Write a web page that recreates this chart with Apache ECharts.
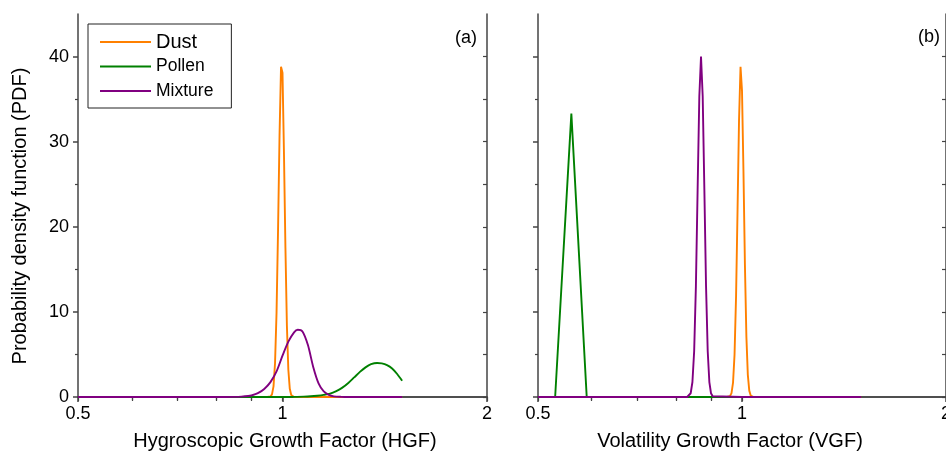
<!DOCTYPE html>
<html>
<head>
<meta charset="utf-8">
<script src="https://cdn.jsdelivr.net/npm/echarts@6/dist/echarts.min.js"></script>
<style>html,body{margin:0;padding:0;background:#fff}#c{width:946px;height:455px}</style>
</head>
<body>
<div id="c"></div>
<script>
// ---------- data ----------
const seriesNames = ['Dust', 'Pollen', 'Mixture'];
const xMajorTicks = [0.5, 1, 2];
const xMinorTicks = [0.6, 0.7, 0.8, 0.9];
const yMajorTicks = [0, 10, 20, 30, 40];
const yMinorTicks = [5, 15, 25, 35];

// Panel (a): Hygroscopic Growth Factor
const hgfDustX = [0.5, 0.9, 0.95, 0.96, 0.965, 0.97, 0.975, 0.98, 0.985, 0.99, 0.995, 1.0, 1.005, 1.01, 1.015, 1.02, 1.025, 1.03, 1.035, 1.04, 1.05, 1.1, 1.2, 1.3, 1.4, 1.5];
const hgfDustY = [0, 0, 0, 0.06, 0.31, 1.25, 3.96, 9.9, 19.6, 30.7, 38.8, 38.1, 28.6, 17.5, 8.4, 3.2, 0.96, 0.23, 0.04, 0, 0, 0, 0, 0, 0, 0];
const hgfPollenX = [0.5, 0.9, 1.0, 1.05, 1.075, 1.1, 1.125, 1.15, 1.175, 1.2, 1.225, 1.25, 1.275, 1.3, 1.325, 1.35, 1.378, 1.4, 1.425, 1.45, 1.475, 1.5];
const hgfPollenY = [0, 0, 0, 0.02, 0.04, 0.08, 0.15, 0.25, 0.4, 0.7, 1.1, 1.65, 2.3, 2.95, 3.48, 3.85, 4.0, 3.95, 3.75, 3.35, 2.7, 1.9];
const hgfMixX = [0.5, 0.8, 0.85, 0.87, 0.89, 0.9, 0.92, 0.94, 0.96, 0.98, 1.0, 1.02, 1.04, 1.053, 1.07, 1.09, 1.11, 1.13, 1.15, 1.17, 1.19, 1.22, 1.25, 1.3, 1.4, 1.5];
const hgfMixY = [0, 0, 0.01, 0.04, 0.11, 0.18, 0.45, 0.95, 1.75, 3.0, 4.85, 6.5, 7.6, 7.9, 7.7, 6.1, 3.5, 1.6, 0.65, 0.25, 0.08, 0.02, 0, 0, 0, 0];

// Panel (b): Volatility Growth Factor
const vgfDustX = [0.5, 0.6, 0.7, 0.8, 0.9, 0.95, 0.96, 0.965, 0.97, 0.975, 0.98, 0.985, 0.99, 0.995, 1.0, 1.005, 1.01, 1.015, 1.02, 1.025, 1.03, 1.035, 1.04, 1.1, 1.2, 1.3, 1.4, 1.5];
const vgfDustY = [0, 0, 0, 0, 0, 0, 0.1, 0.45, 1.7, 5.0, 11.8, 22.0, 32.6, 38.8, 36.0, 26.5, 15.5, 7.1, 2.6, 0.75, 0.17, 0.03, 0, 0, 0, 0, 0, 0];
const vgfPollenX = [0.5, 0.53, 0.56, 0.59, 0.62, 0.7, 0.8, 0.9, 1.0, 1.1, 1.2, 1.3, 1.4, 1.5];
const vgfPollenY = [0, 0, 33.3, 0, 0, 0, 0, 0, 0, 0, 0, 0, 0, 0];
const vgfMixX = [0.5, 0.6, 0.7, 0.8, 0.83, 0.835, 0.84, 0.845, 0.85, 0.855, 0.86, 0.865, 0.87, 0.875, 0.88, 0.885, 0.89, 0.895, 0.9, 0.905, 0.91, 1.0, 1.1, 1.2, 1.3, 1.4, 1.5];
const vgfMixY = [0, 0, 0, 0, 0, 0.09, 0.44, 1.76, 5.4, 13.0, 24.3, 35.3, 40.0, 35.3, 24.3, 13.0, 5.4, 1.76, 0.44, 0.09, 0, 0, 0, 0, 0, 0, 0];

const colors = { Dust: '#ff8000', Pollen: '#008000', Mixture: '#800080' };
// ---------- chart ----------
const FONT = "'Liberation Sans', Arial, sans-serif";
const AX = '#444';
const zip = (xs, ys) => xs.map((x, i) => [x, ys[i]]);

function xAxesFor(g) {
  const base = { type: 'log', logBase: 2, gridIndex: g, min: 0.5, max: 2, splitLine: { show: false } };
  return [
    Object.assign({}, base, {
      position: 'bottom',
      axisLine: { show: true, lineStyle: { color: AX, width: 1.5 } },
      axisTick: { show: true, inside: false, length: 5, customValues: xMajorTicks, lineStyle: { color: AX, width: 1.5 } },
      axisLabel: { show: true, customValues: xMajorTicks, formatter: v => String(+(+v).toFixed(3)), fontSize: 18, color: '#000', fontFamily: FONT, margin: 8 }
    }),
    Object.assign({}, base, {
      position: 'bottom',
      axisLine: { show: false },
      axisTick: { show: true, inside: false, length: 3, customValues: xMinorTicks, lineStyle: { color: AX, width: 1.2 } },
      axisLabel: { show: false }
    }),
    Object.assign({}, base, {
      position: 'top',
      axisLine: { show: true, lineStyle: { color: AX, width: 1.5 } },
      axisTick: { show: true, inside: true, length: 4, customValues: xMajorTicks.concat(xMinorTicks), lineStyle: { color: AX, width: 1.2 } },
      axisLabel: { show: false }
    })
  ];
}
function yAxesFor(g, labels) {
  const base = { type: 'value', gridIndex: g, min: 0, max: 45, splitLine: { show: false } };
  return [
    Object.assign({}, base, {
      position: 'left',
      axisLine: { show: true, lineStyle: { color: AX, width: 1.5 } },
      axisTick: { show: true, inside: false, length: 5, customValues: yMajorTicks, lineStyle: { color: AX, width: 1.5 } },
      axisLabel: { show: labels, customValues: yMajorTicks, fontSize: 18, color: '#000', fontFamily: FONT, margin: 9 }
    }),
    Object.assign({}, base, {
      position: 'left',
      axisLine: { show: false },
      axisTick: { show: true, inside: false, length: 3, customValues: yMinorTicks, lineStyle: { color: AX, width: 1.2 } },
      axisLabel: { show: false }
    }),
    Object.assign({}, base, {
      position: 'right',
      axisLine: { show: true, lineStyle: { color: AX, width: 1.5 } },
      axisTick: { show: true, inside: true, length: 4, customValues: yMajorTicks.concat(yMinorTicks), lineStyle: { color: AX, width: 1.2 } },
      axisLabel: { show: false }
    })
  ];
}

function line(name, data, xi, yi, smooth) {
  return {
    name, type: 'line', data, xAxisIndex: xi, yAxisIndex: yi,
    symbol: 'none', smooth: smooth || false, clip: true,
    lineStyle: { color: colors[name], width: 1.9 }, itemStyle: { color: colors[name] },
    animation: false
  };
}

const chart = echarts.init(document.getElementById('c'), null, { renderer: 'canvas' });
chart.setOption({
  animation: false,
  backgroundColor: '#fff',
  grid: [
    { left: 78, top: 14, width: 409, height: 383, outerBoundsMode: 'none', containLabel: false },
    { left: 538, top: 14, width: 408, height: 383, outerBoundsMode: 'none', containLabel: false }
  ],
  xAxis: xAxesFor(0).concat(xAxesFor(1)),
  yAxis: yAxesFor(0, true).concat(yAxesFor(1, false)),
  legend: {
    left: 88, top: 24, orient: 'vertical',
    itemWidth: 51, itemHeight: 14, itemGap: 4.5,
    padding: [8, 18, 7, 11],
    borderColor: '#222', borderWidth: 1, backgroundColor: '#fff',
    selectedMode: false,
    itemStyle: { opacity: 0 },
    lineStyle: { width: 2 },
    textStyle: { color: '#000', fontFamily: FONT, fontSize: 17.5, lineHeight: 20 },
    data: [
      { name: 'Dust', textStyle: { fontSize: 20, lineHeight: 20 } },
      { name: 'Pollen' },
      { name: 'Mixture' }
    ]
  },
  graphic: [
    { type: 'text', x: 20, y: 216, rotation: Math.PI / 2,
      style: { text: 'Probability density function (PDF)', font: '20px ' + FONT, fill: '#000', align: 'center', verticalAlign: 'middle' } },
    { type: 'text', x: 285, y: 441,
      style: { text: 'Hygroscopic Growth Factor (HGF)', font: '20px ' + FONT, fill: '#000', align: 'center', verticalAlign: 'middle' } },
    { type: 'text', x: 730, y: 441,
      style: { text: 'Volatility Growth Factor (VGF)', font: '20px ' + FONT, fill: '#000', align: 'center', verticalAlign: 'middle' } },
    { type: 'text', x: 466, y: 38,
      style: { text: '(a)', font: '18px ' + FONT, fill: '#000', align: 'center', verticalAlign: 'middle' } },
    { type: 'text', x: 929, y: 37,
      style: { text: '(b)', font: '18px ' + FONT, fill: '#000', align: 'center', verticalAlign: 'middle' } }
  ],
  series: [
    line('Dust', zip(hgfDustX, hgfDustY), 0, 0),
    line('Pollen', zip(hgfPollenX, hgfPollenY), 0, 0, 0.3),
    line('Mixture', zip(hgfMixX, hgfMixY), 0, 0, 0.25),
    line('Dust', zip(vgfDustX, vgfDustY), 3, 3),
    line('Pollen', zip(vgfPollenX, vgfPollenY), 3, 3),
    line('Mixture', zip(vgfMixX, vgfMixY), 3, 3)
  ]
});
</script>
</body>
</html>
